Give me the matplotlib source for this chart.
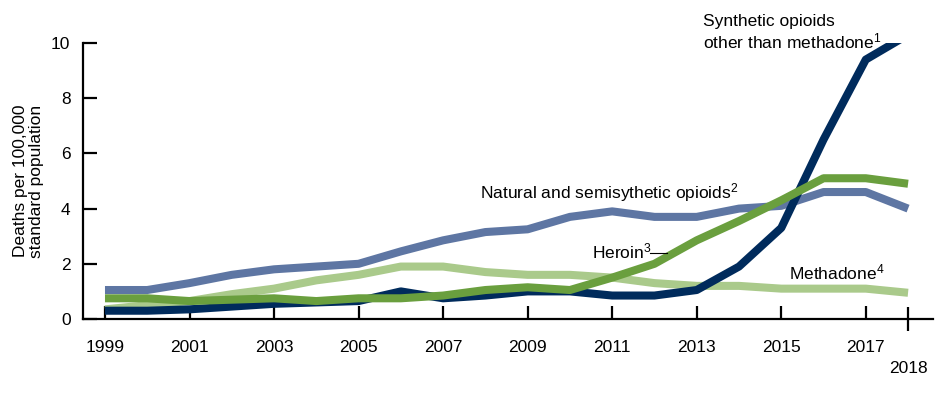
import matplotlib
matplotlib.use("Agg")
import matplotlib.pyplot as plt

plt.rcParams['font.family'] = ['Liberation Sans', 'DejaVu Sans']
plt.rcParams['mathtext.fontset'] = 'custom'
plt.rcParams['mathtext.rm'] = 'Liberation Sans'
plt.rcParams['mathtext.it'] = 'Liberation Sans'

years = list(range(1999, 2019))
synthetic = [0.3, 0.3, 0.35, 0.45, 0.55, 0.6, 0.65, 1.0, 0.75, 0.85, 1.0, 1.0, 0.85, 0.85, 1.05, 1.9, 3.3, 6.5, 9.4, 10.3]
natural = [1.05, 1.05, 1.3, 1.6, 1.8, 1.9, 2.0, 2.45, 2.85, 3.15, 3.25, 3.7, 3.9, 3.7, 3.7, 4.0, 4.1, 4.6, 4.6, 4.0]
heroin = [0.75, 0.75, 0.65, 0.7, 0.75, 0.65, 0.75, 0.75, 0.85, 1.05, 1.15, 1.05, 1.5, 2.0, 2.85, 3.55, 4.3, 5.1, 5.1, 4.9]
methadone = [0.35, 0.5, 0.65, 0.9, 1.1, 1.4, 1.6, 1.9, 1.9, 1.7, 1.6, 1.6, 1.5, 1.3, 1.2, 1.2, 1.1, 1.1, 1.1, 0.95]

major_years = list(range(1999, 2018, 2))
yticks = [0, 2, 4, 6, 8, 10]

c_syn = '#002B5C'
c_nat = '#5E76A3'
c_her = '#6A9F3E'
c_met = '#AACA8B'

fig = plt.figure(figsize=(9.39, 3.94), dpi=100)
ax = fig.add_axes([83/939, 1-319/394, (933-83)/939, (319-43)/394])

lw = 5.8
ax.plot(years, methadone, color=c_met, lw=lw, solid_capstyle='butt', zorder=2)
ax.plot(years, natural, color=c_nat, lw=lw, solid_capstyle='butt', zorder=3)
ax.plot(years, synthetic, color=c_syn, lw=lw, solid_capstyle='butt', zorder=4)
ax.plot(years, heroin, color=c_her, lw=lw, solid_capstyle='butt', zorder=5)

ax.set_xlim(1998.48, 2018.59)
ax.set_ylim(0, 10)

for s in ['top', 'right']:
    ax.spines[s].set_visible(False)
for s in ['left', 'bottom']:
    ax.spines[s].set_linewidth(1.6)
ax.spines['left'].set_bounds(0, 10)

ax.set_xticks(major_years)
ax.set_xticklabels([str(y) for y in major_years])
ax.set_xticks([2018], minor=True)
ax.set_xticklabels(['2018'], minor=True)
ax.set_yticks(yticks)
ax.set_yticklabels([str(v) for v in yticks])

fs = 12.5
ax.tick_params(axis='x', which='major', direction='in', length=9.5, width=1.6, pad=15, labelsize=fs)
ax.tick_params(axis='x', which='minor', direction='inout', length=17, width=1.6, pad=22, labelsize=fs)
ax.tick_params(axis='y', direction='in', length=10, width=1.6, pad=9, labelsize=fs)

ax.set_ylabel('Deaths per 100,000\nstandard population', fontsize=fs, linespacing=1.05)
ax.yaxis.set_label_coords(-0.046, 0.5)

ax.text(2013.15, 10.38, 'Synthetic opioids\nother than methadone$^{1}$', fontsize=fs,
        ha='left', va='center', linespacing=1.15)
ax.text(2007.87, 4.57, 'Natural and semisythetic opioids$^{2}$', fontsize=fs, ha='left', va='center')
ax.text(2010.52, 2.46, 'Heroin$^{3}$', fontsize=fs, ha='left', va='center')
ax.plot([2011.9, 2012.3], [2.39, 2.39], color='black', lw=0.8, zorder=6)
ax.text(2015.19, 1.67, 'Methadone$^{4}$', fontsize=fs, ha='left', va='center')

fig.savefig('out.png', dpi=100)
